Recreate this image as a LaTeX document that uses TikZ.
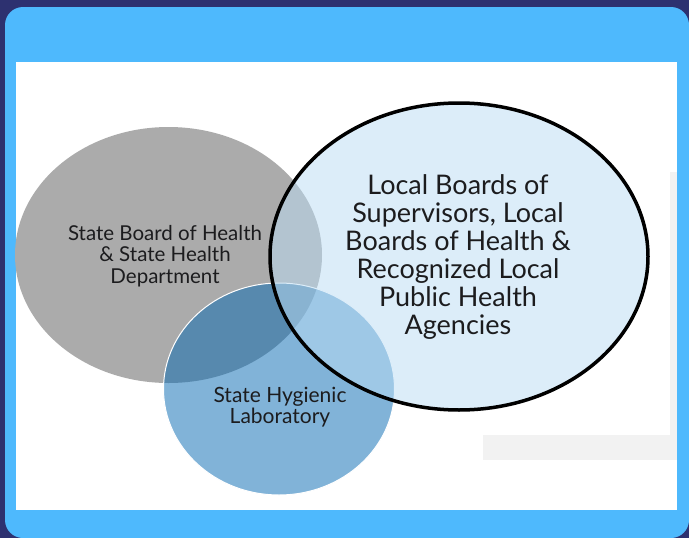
\documentclass[tikz,border=0pt]{standalone}
\usepackage{fontspec}
\setmainfont{Lato}
\usetikzlibrary{shapes.geometric}
\definecolor{pagebg}{RGB}{45,49,112}
\definecolor{frameblue}{RGB}{78,185,253}
\definecolor{shadegray}{RGB}{242,242,242}
\definecolor{boardgray}{RGB}{171,171,171}
\definecolor{labblue}{RGB}{4,104,178}
\definecolor{localblue}{RGB}{187,221,245}
\definecolor{inkgray}{RGB}{28,28,30}
\begin{document}
\begin{tikzpicture}[x=1pt, y=-1pt,
	venn/.style={ellipse, inner sep=0pt},
	lbl/.style={align=center, text=inkgray, inner sep=0pt}]
	\useasboundingbox (0,0) rectangle (689,538);
	\clip (0,0) rectangle (689,538);
	% frame
	\fill[pagebg] (0,0) rectangle (689,538);
	\fill[frameblue, rounded corners=18pt] (5,7) rectangle (689,538);
	\fill[white] (16,62) rectangle (677,510);
	\fill[shadegray] (670,172) rectangle (677,435);
	\fill[shadegray] (483,435) rectangle (677,460);
	% circles
	\node[venn, fill=boardgray, minimum width=307pt, minimum height=256pt](board) at (168.5,255){};
	\node[venn, fill=labblue, fill opacity=0.5, draw=white, line width=1pt, minimum width=231pt, minimum height=212pt](lab) at (279,389){};
	\node[venn, fill=localblue, fill opacity=0.5, draw=black, line width=3.5pt, minimum width=378pt, minimum height=307pt](local) at (459,256.5){};
	% labels
	\node[lbl, font=\fontsize{20.5}{21.5}\selectfont](boardtxt) at (165,256){State Board of Health\\ \& State Health\\ Department};
	\node[lbl, font=\fontsize{21}{21}\selectfont](labtxt) at (280,407){State Hygienic\\ Laboratory};
	\node[lbl, font=\fontsize{27}{28}\selectfont](localtxt) at (458,257){Local Boards of\\ Supervisors, Local\\ Boards of Health \&\\ Recognized Local\\ Public Health\\ Agencies};
\end{tikzpicture}
\end{document}
